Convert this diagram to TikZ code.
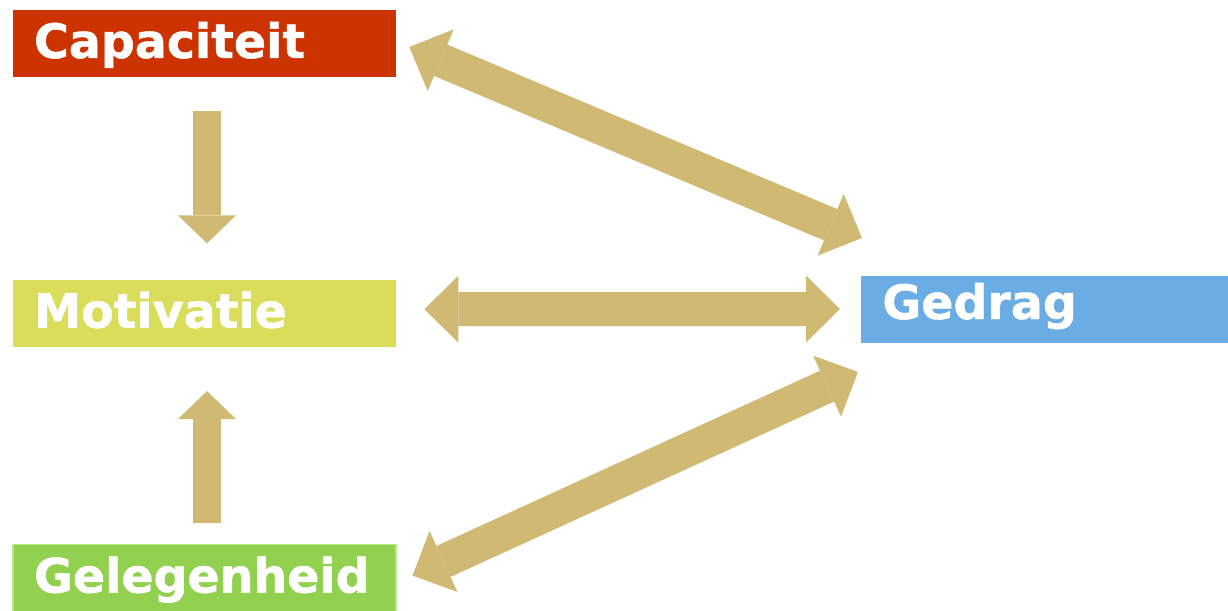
\documentclass[tikz,border=0pt]{standalone}
\usepackage{fontspec}
\setmainfont{DejaVu Sans}[BoldFont={DejaVu Sans Bold}, BoldFeatures={FakeBold=1}]
\usepackage{tikz}
\usetikzlibrary{arrows.meta,positioning}

\definecolor{capred}{HTML}{CC3300}
\definecolor{motyellow}{HTML}{D9DD59}
\definecolor{gelgreen}{HTML}{92D050}
\definecolor{gelborder}{HTML}{B6E88E}
\definecolor{gedblue}{HTML}{6AADE4}
\definecolor{arrowtan}{HTML}{D0B973}

\begin{document}
\begin{tikzpicture}[
  every node/.style={font=\fontsize{27}{30}\selectfont\bfseries, text=white},
  box/.style={rectangle, minimum width=7.66cm, minimum height=1.34cm, inner xsep=0.42cm,
    text width=6.82cm, align=left, text height=0.7cm, text depth=0.12cm},
  fatarrow/.style={draw=arrowtan, line width=0.68cm,
    -{Triangle[width=1.34cm, length=0.68cm, line width'=0pt]}},
  fatboth/.style={fatarrow, {Triangle[width=1.34cm, length=0.68cm, line width'=0pt]}-{Triangle[width=1.34cm, length=0.68cm, line width'=0pt]}},
  slimarrow/.style={draw=arrowtan, line width=0.56cm,
    -{Triangle[width=1.16cm, length=0.56cm, line width'=0pt]}}
]

\useasboundingbox (0,0) rectangle (24.56,12.2);

\node[box, fill=capred] (cap) at (4.09,11.33) {Capaciteit};
\node[box, fill=motyellow, below=4.04cm of cap] (mot) {Motivatie};
\node[box, fill=gelgreen, draw=gelborder, line width=0.6pt, below=3.94cm of mot] (gel) {Gelegenheid};
\node[box, fill=gedblue, anchor=west, minimum width=7.6cm, text depth=0.3cm] (ged) at (17.22,6.02) {Gedrag};

\draw[slimarrow] ([xshift=0.05cm, yshift=-0.68cm]cap.south) -- ([xshift=0.05cm, yshift=0.72cm]mot.north);
\draw[slimarrow] ([xshift=0.05cm, yshift=0.42cm]gel.north) -- ([xshift=0.05cm, yshift=-0.88cm]mot.south);

\draw[fatboth] ([xshift=0.56cm, yshift=0.08cm]mot.east) -- ([xshift=-0.42cm]ged.west);
\draw[fatboth] ([xshift=0.26cm, yshift=-0.07cm]cap.east) -- ([xshift=0.02cm, yshift=1.42cm]ged.west);
\draw[fatboth] ([xshift=0.32cm, yshift=0.05cm]gel.east) -- ([xshift=-0.06cm, yshift=-1.26cm]ged.west);

\end{tikzpicture}
\end{document}
